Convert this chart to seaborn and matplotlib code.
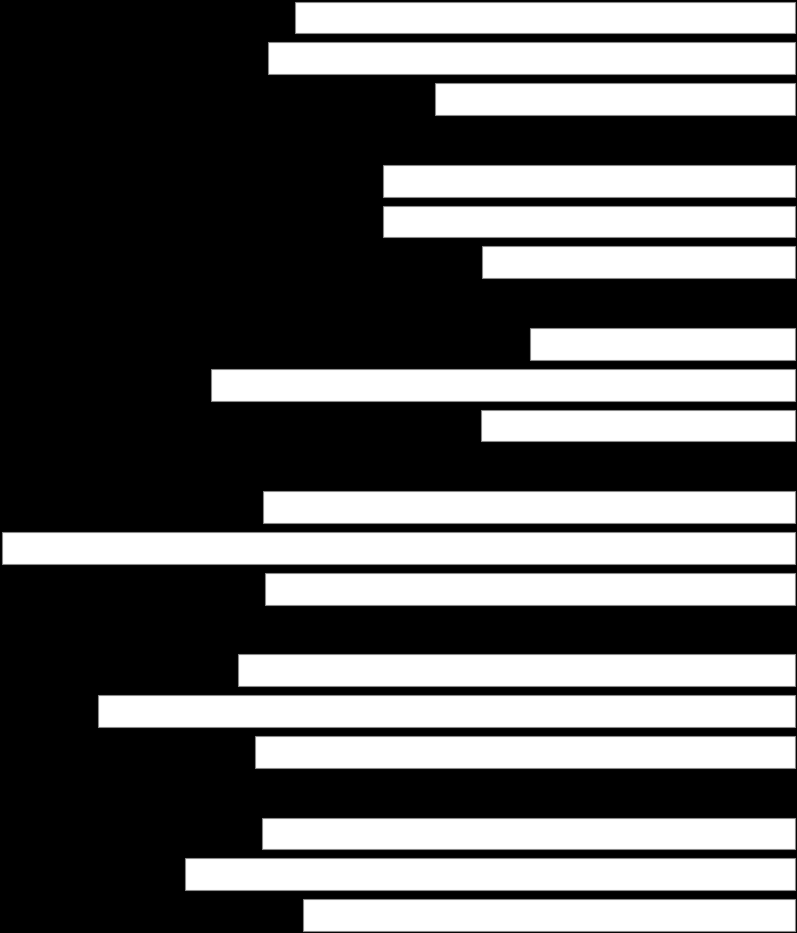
import matplotlib
matplotlib.use("Agg")
import matplotlib.pyplot as plt
import seaborn as sns
import pandas as pd

# Data (arbitrary units)
groups = ["G1", "G2", "G3", "G4", "G5", "G6"]
series = ["a", "b", "c"]
values_a = [500, 412, 265, 532, 557, 533]
values_b = [527, 412, 584, 793, 697, 610]
values_c = [360, 313, 314, 530, 540, 492]

rows = []
for g, va, vb, vc in zip(groups, values_a, values_b, values_c):
    for s, v in zip(series, (va, vb, vc)):
        rows.append({"label": f"{g}-{s}", "value": v})
df = pd.DataFrame(rows)

order = []
for i, g in enumerate(groups):
    order += [f"{g}-{s}" for s in series]
    if i < len(groups) - 1:
        order.append(f"gap{i}")

sns.set_style("white")
fig = plt.figure(figsize=(7.97, 9.33), dpi=100, facecolor="black")
ax = fig.add_axes([0, 0, 1, 1])
ax.set_facecolor("black")

sns.barplot(data=df, x="value", y="label", order=order, orient="h",
            color="white", saturation=1, width=0.777,
            edgecolor="#8a8a8a", linewidth=0.8, errorbar=None, ax=ax)

ax.set_xlim(795, -2)
ax.set_ylim(22.44, -0.43)
ax.axis("off")

fig.savefig("out.png", dpi=100, facecolor="black")
